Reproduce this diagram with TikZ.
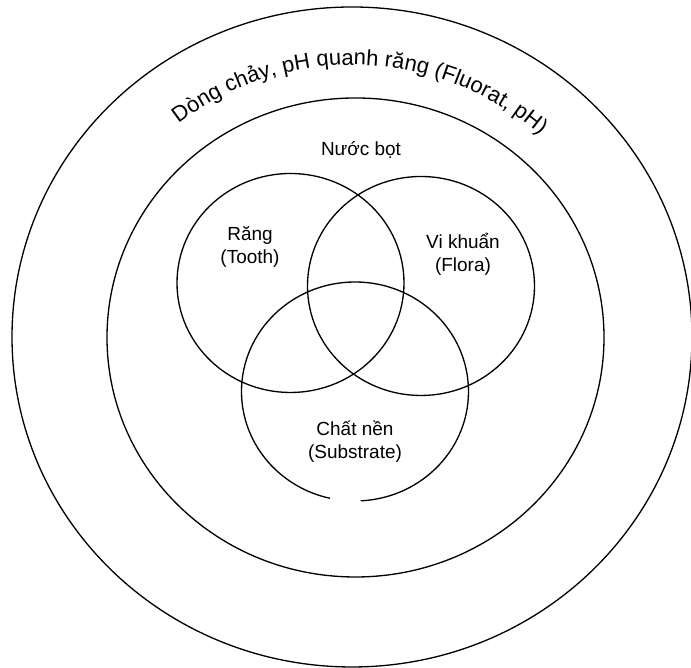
\documentclass[tikz,border=0pt]{standalone}
\usepackage{fontspec}
\setmainfont{Liberation Sans}
\setsansfont{Liberation Sans}
\usetikzlibrary{calc,decorations.text}

\begin{document}
\begin{tikzpicture}[x=0.02cm,y=0.02cm,line width=.75pt,
  ring/.style={draw=black},
  lbl/.style={align=center,font=\fontsize{10.8}{13}\selectfont,inner sep=0pt}]
\useasboundingbox (0,0) rectangle (691,668);

% ============ OUTER RINGS ============
\coordinate (cO) at (352,331);
\coordinate (cI) at (355.5,330.5);
\draw[ring] (cO) ellipse [x radius=340,y radius=330];
\draw[ring] (cI) ellipse [x radius=248.5,y radius=239.5];
\path[decorate,decoration={text along path,text align=center,
  text={|\fontsize{12.5}{15}\selectfont|Dòng chảy, pH quanh răng (Fluorat, pH)}}]
  ($(cO)+(158:280 and 272)$) arc[start angle=158,end angle=18,x radius=280,y radius=272];
\node[lbl,anchor=base] (saliva) at (361,512) {Nước bọt};

% ============ THREE CIRCLES ============
\coordinate (cT) at (290.5,385);
\coordinate (cF) at (421,382);
\coordinate (cS) at (355,276.5);
\foreach \c in {cT,cF}\draw[ring] (\c) ellipse [x radius=113.5,y radius=109.5];
% substrate circle, open at the bottom
\draw[ring] ($(cS)+(272.9:113.5 and 109.5)$)
  arc[start angle=272.9,end angle=617.3,x radius=113.5,y radius=109.5];
\node[lbl] (tooth) at (250,421) {Răng\\(Tooth)};
\node[lbl] (flora) at (463,413.5) {Vi khuẩn\\(Flora)};
\node[lbl] (subst) at (355,226.5) {Chất nền\\(Substrate)};
\end{tikzpicture}
\end{document}
